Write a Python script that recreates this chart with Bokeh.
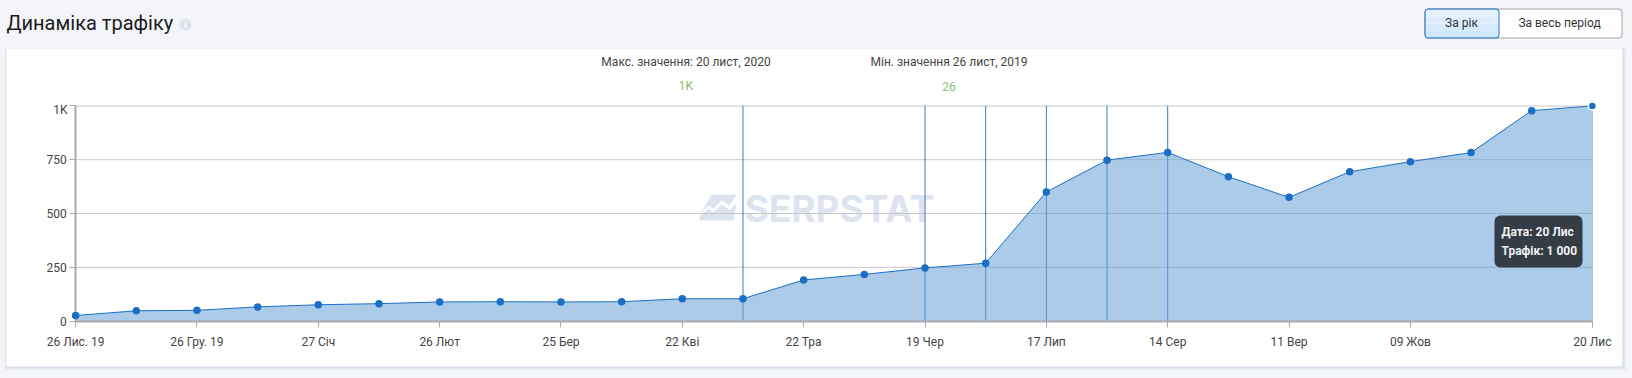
from bokeh.plotting import figure
from bokeh.models import Range1d, Label, BoxAnnotation, FixedTicker, ColumnDataSource, PolyAnnotation
from bokeh.embed import file_html
from bokeh.resources import INLINE

idx = list(range(26))
traffic = [26, 48, 50, 66, 76, 81, 89, 90, 89, 90, 104, 104, 191, 217, 247, 269, 600, 748, 784, 671, 575, 694, 741, 783, 978, 1000]
spike_idx = [11, 14, 15, 16, 17, 18]
x_ticks = [0, 2, 4, 6, 8, 10, 12, 14, 16, 18, 20, 22, 25]
x_labels = ["26 Лис. 19", "26 Гру. 19", "27 Січ", "26 Лют", "25 Бер", "22 Кві", "22 Тра", "19 Чер", "17 Лип", "14 Сер", "11 Вер", "09 Жов", "20 Лис"]
y_ticks = [0, 250, 500, 750]
y_labels = ["0", "250", "500", "750"]
grid_values = [250, 500, 750]

W, H = 1632, 378
X0, PX_X = 75.13, 60.67
Y0, PX_Y = 320.6, 0.2152
BG = "#f3f5f9"
FONT = "Roboto"
BLUE = "#1a6fc4"

p = figure(width=W, height=H, output_backend="svg", toolbar_location=None,
           x_range=Range1d(-X0 / PX_X, (W - X0) / PX_X),
           y_range=Range1d(-(H - Y0) / PX_Y, Y0 / PX_Y),
           min_border=0, background_fill_color=BG, border_fill_color=BG, outline_line_color=None)


def sbox(l, r, t, b, **kw):
    box = BoxAnnotation(left=l, right=r, top=H - t, bottom=H - b, left_units="screen", right_units="screen",
                        top_units="screen", bottom_units="screen", level=kw.pop("level", "underlay"),
                        fill_alpha=kw.pop("fill_alpha", 1), line_alpha=1, **kw)
    p.add_layout(box)
    return box


def stext(x, y, text, size=12, color="#444444", align="left", style="normal", font=FONT, level="annotation"):
    p.add_layout(Label(x=x, y=H - y, x_units="screen", y_units="screen", text=text, text_font=font,
                       text_font_size=f"{size}px", text_color=color, text_align=align,
                       text_baseline="middle", text_font_style=style, level=level))


def spoly(xs, ys, color):
    p.add_layout(PolyAnnotation(xs=xs, ys=[H - y for y in ys], xs_units="screen", ys_units="screen",
                                fill_color=color, fill_alpha=1, line_color=None, level="underlay"))


# card and shadow
for g, c in ((4, "#eef0f7"), (3, "#e7eaf4"), (2, "#dfe3f0"), (1, "#d6dbec")):
    sbox(6 - g // 2, 1622 + g, 48, 366 + g, fill_color=c, line_color=None)
sbox(6, 1622, 48, 366, fill_color="white", line_color=None)

# header
stext(6, 22.5, "Динаміка трафіку", size=20, color="#1c1c1c")
sbox(179, 191, 18, 30, fill_color="#dde3ef", line_color=None, border_radius=6)
stext(185, 24, "i", size=9, color="white", align="center", style="bold")

# buttons
sbox(1424.5, 1621.5, 8.5, 37.5, fill_color="white", line_color="#a5a5a5", line_width=1, border_radius=3)
for top, shade in ((9, "#e6f3fe"), (16, "#dceefd"), (23, "#d5eafd"), (30, "#cfe7fd")):
    sbox(1425, 1498, top, min(top + 7, 37), fill_color=shade, line_color=None)
sbox(1424.5, 1498.5, 8.5, 37.5, fill_alpha=0, line_color=BLUE, line_width=1, border_radius=3)
stext(1461, 22.5, "За рік", size=12, align="center", color="#333333")
stext(1559, 22.5, "За весь період", size=12, align="center", color="#333333")

# min / max captions
stext(685.5, 61.5, "Макс. значення: 20 лист, 2020", align="center")
stext(685.5, 85.5, "1K", color="#8ac06e", align="center")
stext(948.5, 61.5, "Мін. значення 26 лист, 2019", align="center")
stext(948.5, 85.5, "26", color="#8ac06e", align="center")

# watermark
spoly([711, 736, 729, 721, 713, 707, 699], [194, 194, 205, 200, 208, 205, 216], "#dde3ef")
spoly([699, 708, 713, 721, 729, 736, 733, 699], [216, 208, 212, 204, 209, 203, 220, 220], "#dde3ef")
stext(744, 207.5, "SERPSTAT", size=37, color="#dde3ef", style="bold", font="Inter", level="underlay")

# grid, drawn as glyphs so that it sits on the card
p.xgrid.visible = False
p.ygrid.visible = False
p.segment(x0=[0] * 3, x1=[25] * 3, y0=grid_values, y1=grid_values, line_color="#c8c8c8", line_width=1)
p.segment(x0=[0], x1=[25], y0=[1000], y1=[1000], line_color="#e3e3e3", line_width=2)

# data
src = ColumnDataSource(dict(x=idx, y=traffic, base=[0] * 26))
p.segment(x0=spike_idx, x1=spike_idx, y0=[0] * len(spike_idx), y1=[1000] * len(spike_idx),
          line_color=BLUE, line_width=1, line_alpha=0.9)
p.varea(x="x", y1="base", y2="y", source=src, fill_color="#66a0d5", fill_alpha=0.55)
p.segment(x0=idx[-1:], x1=idx[-1:], y0=[0], y1=traffic[-1:], line_color="#a9c3dc", line_width=1)
p.line(x="x", y="y", source=src, line_color=BLUE, line_width=1, level="annotation")
p.scatter(x=idx[:-1], y=traffic[:-1], size=7.5, fill_color=BLUE, line_color=None, level="annotation")
p.scatter(x=idx[-1:], y=traffic[-1:], size=8, fill_color=BLUE, line_color="white", line_width=1.5, level="annotation")

# axes
p.xaxis.fixed_location = 0
p.yaxis.fixed_location = 0
p.xaxis.ticker = FixedTicker(ticks=x_ticks)
p.xaxis.major_label_overrides = dict(zip(x_ticks, x_labels))
p.yaxis.ticker = FixedTicker(ticks=y_ticks + [1000])
p.yaxis.major_label_overrides = {**dict(zip(y_ticks, y_labels)), 1000: ""}
p.xaxis.bounds = (0, 25)
p.yaxis.bounds = (0, 1000)
for ax in (p.xaxis[0], p.yaxis[0]):
    ax.axis_line_color = "#a9a9a9"
    ax.axis_line_width = 2
    ax.major_tick_line_color = "#a9a9a9"
    ax.major_tick_line_width = 1
    ax.major_tick_in = 0
    ax.major_tick_out = 6
    ax.minor_tick_line_color = None
    ax.major_label_text_font = FONT
    ax.major_label_text_font_size = "12px"
    ax.major_label_text_color = "#444444"
p.xaxis.major_label_standoff = 8
p.yaxis.major_label_standoff = 3
p.add_layout(Label(x=0, y=1000, text="1K", text_font=FONT, text_font_size="12px", text_color="#444444",
                   text_align="right", text_baseline="middle", x_offset=-8, y_offset=-4))

# tooltip
sbox(1494, 1582, 215, 267, fill_color="#343c46", line_color=None, border_radius=6, level="overlay")
stext(1501, 231, "Дата: 20 Лис", color="#f0f0f0", style="bold", level="overlay")
stext(1501, 250, "Трафік: 1 000", color="#f0f0f0", style="bold", level="overlay")

html = file_html(p, INLINE)
html = html.replace("<head>", f"<head><style>html,body{{margin:0!important;padding:0;background:{BG};overflow:hidden}}</style>", 1)
open("out.html", "w").write(html)
